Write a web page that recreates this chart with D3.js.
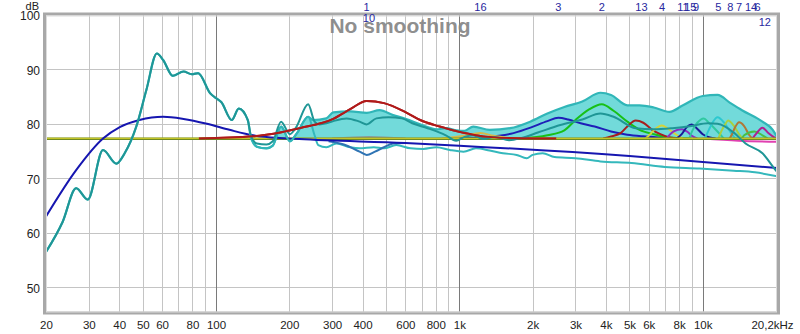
<!DOCTYPE html>
<html><head><meta charset="utf-8">
<script src="https://cdn.jsdelivr.net/npm/d3@7"></script>
<style>
html,body{margin:0;padding:0;background:#fff;}
svg{display:block;font-family:"Liberation Sans",Arial,sans-serif;}
</style></head>
<body>
<svg id="c" width="800" height="334"></svg>
<script>
// ---------- DATA ----------
const xTickValues = [20,30,40,50,60,80,100,200,300,400,600,800,1000,2000,3000,4000,5000,6000,8000,10000,20200];
const xTickLabels = ["20","30","40","50","60","80","100","200","300","400","600","800","1k","2k","3k","4k","5k","6k","8k","10k","20,2kHz"];
const xMinorGrid = [30,40,50,60,70,80,90,200,300,400,500,600,700,800,900,2000,3000,4000,5000,6000,7000,8000,9000];
const xMajorGrid = [100,1000,10000];
const yTickValues = [50,60,70,80,90,100];
const yGrid = [50,60,70,80,90];
const baselineLevel = 77.25;

// measurement, shared low-frequency part
const lowShared = [[20,56.5],[23.4,62.0],[26.6,68.2],[29.7,66.1],[34.3,75.2],[38.9,72.7],[42.1,74.6],[47,79.5],[51.7,86.2],[57.1,92.9],[60.6,91.7],[66.4,88.8],[73.5,89.6],[79.4,89.1],[84.4,89.3],[94.6,85.6],[100,84.7],[105,84.0],[116,80.7],[124,82.8],[135,80.7]];
// light trace between 139 Hz and 239 Hz (shared by upper and lower light traces)
const lightSplit = [[139,77.5],[147,75.8],[161,75.5],[171,76.0],[185,79.5],[201,76.8],[215,78.3],[239,81.3]];
// upper light trace (top of shaded area)
const lightUpper = [[250,80.7],[284,81.0],[303,82.1],[356,82.3],[416,82.0],[470,82.5],[534,81.6],[604,80.9],[690,79.9],[806,79.0],[880,79.2],[974,78.8],[1050,78.7],[1140,79.5],[1334,78.9],[1616,79.2],[1955,80.4],[2300,81.9],[2700,83.1],[3200,84.1],[3800,85.7],[4200,85.3],[4900,83.4],[5500,83.4],[6300,83.0],[7300,82.2],[8300,83.4],[10000,85.1],[11500,85.3],[13000,83.8],[14500,82.5],[17600,80.4],[19400,78.9],[20200,77.6]];
// lower light trace
const lightLower = [[254,77.9],[263,76.1],[284,75.7],[312,76.4],[356,75.7],[389,75.5],[445,75.7],[490,75.5],[550,76.1],[630,75.5],[710,75.4],[806,75.7],[914,75.2],[1040,74.9],[1170,75.5],[1330,75.1],[1510,74.6],[1720,74.3],[1890,73.7],[2000,74.3],[2200,74.6],[2460,73.9],[3000,73.7],[3800,73.1],[5100,72.8],[7000,72.1],[9700,71.8],[13400,71.4],[16400,71.1],[20200,70.4]];
// dark trace above the split
const darkMid = [[139,77.9],[147,76.4],[161,76.2],[171,76.8],[185,80.4],[201,78.1],[213,79.3],[239,83.6],[254,80.4],[266,79.9],[284,80.1],[303,80.5],[344,81.0],[389,80.4],[416,79.9],[456,81.0],[512,81.2],[580,81.0],[640,80.1],[740,79.2],[880,77.9],[970,76.9],[1050,77.6],[1140,77.9],[1250,77.2],[1400,77.6],[1600,77.0],[1800,77.4],[2100,78.4],[2600,79.8],[3200,80.8],[3800,81.9],[4300,81.3],[5300,79.2],[6300,79.0],[7500,79.2],[9000,79.6],[10500,80.1],[11500,80.0],[13500,78.3],[15000,76.4],[17600,74.6],[19700,71.8],[20200,71.2]];
// blue-teal trace around 300-600 Hz
const blueTeal = [[290,76.8],[335,76.2],[389,74.9],[416,74.3],[450,74.9],[490,75.7],[534,76.4],[600,76.5]];
// target curve
const target = [[20,63.0],[26.6,71.5],[34.3,77.3],[40.2,79.4],[48.4,80.7],[60.6,81.3],[73.5,80.9],[91.7,80.0],[113.5,78.9],[142,77.9],[161,77.6],[220,77.2],[600,76.5],[1000,76.0],[5000,74.1],[20200,71.9]];

// individual filters
const filter1  = [[85,77.3],[142,77.7],[161,78.0],[220,79.2],[303,80.9],[356,82.7],[416,84.2],[490,83.8],[603,82.1],[690,80.7],[830,79.5],[1050,78.3],[1250,77.7],[1600,77.4],[2500,77.3]];
const filter2  = [[1800,77.3],[2300,77.9],[2700,78.8],[3000,80.7],[3400,82.6],[3850,83.6],[4300,82.4],[4900,80.4],[5500,78.9],[6300,78.1],[7300,77.5],[9000,77.3]];
const filter3  = [[1000,77.3],[1220,77.5],[1670,78.3],[1960,79.3],[2300,80.5],[2550,81.1],[2800,80.8],[3150,80.1],[3600,79.5],[4200,78.6],[4900,78.0],[5700,77.7],[6700,77.5],[8000,77.3]];
const filter4  = [[5800,77.3],[6000,77.8],[6400,79.1],[6800,79.7],[7200,79.1],[7800,78.0],[8300,77.3]];
const filter5  = [[10200,77.3],[10600,78.9],[11000,80.3],[11500,81.2],[12300,80.1],[13100,78.3],[13600,77.3]];
const filter6  = [[16000,77.3],[16600,78.2],[17600,79.3],[18600,78.3],[19700,77.5],[20200,77.3]];
const filter7  = [[12900,77.3],[13200,78.1],[13600,79.4],[14100,80.3],[14800,79.6],[15500,78.0],[16000,77.3]];
const filter8  = [[11600,77.3],[12000,78.9],[12400,80.0],[12700,80.6],[13400,79.7],[14100,78.1],[14600,77.3]];
const filter9  = [[8800,77.3],[9100,78.9],[9500,80.2],[10100,81.0],[10600,80.2],[11500,78.6],[12200,77.3]];
const filter10 = [[300,77.3],[425,77.6],[600,77.3]];
const filter11 = [[7100,77.3],[7600,78.6],[8200,79.0],[8600,78.6],[9100,77.7],[9500,77.3]];
const filter12 = [[10000,77.3],[14000,76.9],[20200,76.7]];
const filter13 = [[3900,77.3],[4200,77.7],[4600,78.3],[4900,79.5],[5300,80.6],[5700,80.2],[6200,78.9],[6700,78.1],[7300,77.5],[8000,77.3]];
const filter14 = [[14500,77.3],[14800,77.9],[16300,78.6],[17600,77.9],[18500,77.3]];
const filter15 = [[7800,77.3],[8200,78.1],[8600,79.4],[9000,79.9],[9400,79.3],[10000,78.1],[10700,77.5],[11300,77.3]];
const filter16 = [[850,77.3],[1050,77.8],[1220,78.3],[1380,77.8],[1650,77.3]];

const filterLabels = ["1","10","16","3","2","13","4","11","15","9","5","8","7","14","6","12"];
const filterLabelFreqs = [415,425,1220,2550,3850,5600,6800,8300,8900,9400,11600,13000,14100,15800,16800,18000];
const filterLabelRows = [0,1,0,0,0,0,0,0,0,0,0,0,0,0,0,2];

// ---------- STYLES ----------
const filterSeries = [
  {d:filter10, c:"#8a9a9a"},
  {d:filter12, c:"#e040b0"},
  {d:filter3,  c:"#1e1eb8"},
  {d:filter2,  c:"#18c018"},
  {d:filter1,  c:"#b01a1a"},
  {d:filter16, c:"#d8b848"},
  {d:filter13, c:"#a81e1e"},
  {d:filter4,  c:"#d4d43a"},
  {d:filter11, c:"#8a30c0"},
  {d:filter15, c:"#1a1a98"},
  {d:filter9,  c:"#30c8a0"},
  {d:filter5,  c:"#2cc8d0"},
  {d:filter8,  c:"#a8d040"},
  {d:filter7,  c:"#b07838"},
  {d:filter14, c:"#48c048"},
  {d:filter6,  c:"#b02090"}
];

// ---------- CHART ----------
const svg = d3.select("#c");
const L = 46, R = 777, T = 14.8, B = 313;
const x = d3.scaleLog().domain([20, 20200]).range([L, R]);
const y = d3.scaleLinear().domain([45.3, 100]).range([B, T]);

svg.append("defs").append("clipPath").attr("id","clip")
  .append("rect").attr("x",L).attr("y",T).attr("width",R-L+1).attr("height",B-T);

// grid
const g = svg.append("g");
g.selectAll(".hg").data(yGrid).join("line")
  .attr("x1",L).attr("x2",R).attr("y1",d=>Math.round(y(d))+0.5).attr("y2",d=>Math.round(y(d))+0.5)
  .attr("stroke","#c4c4c4").attr("stroke-width",1);
g.selectAll(".vg").data(xMinorGrid).join("line")
  .attr("y1",T).attr("y2",B).attr("x1",d=>Math.round(x(d))+0.5).attr("x2",d=>Math.round(x(d))+0.5)
  .attr("stroke","#c4c4c4").attr("stroke-width",1);
g.selectAll(".vm").data(xMajorGrid).join("line")
  .attr("y1",T).attr("y2",B).attr("x1",d=>Math.round(x(d))+0.5).attr("x2",d=>Math.round(x(d))+0.5)
  .attr("stroke","#7a7a7a").attr("stroke-width",1);

const plot = svg.append("g").attr("clip-path","url(#clip)");
const line = d3.line().x(d=>x(d[0])).y(d=>y(d[1])).curve(d3.curveMonotoneX);

const upperTrace = lowShared.concat(lightSplit, lightUpper);
const lowerTrace = lightSplit.concat(lightLower);
const darkTrace = lowShared.concat(darkMid);

// shaded area
const fillData = lightSplit.concat(lightUpper);
plot.append("path").datum(fillData)
  .attr("d", d3.area().x(d=>x(d[0])).y0(y(baselineLevel)).y1(d=>y(Math.max(d[1],baselineLevel))).curve(d3.curveMonotoneX))
  .attr("fill","#72dada").attr("stroke","none");

// filters
filterSeries.forEach(f=>{
  plot.append("path").datum(f.d).attr("d",line)
    .attr("fill","none").attr("stroke",f.c).attr("stroke-width",2);
});

// baseline
plot.append("line").attr("x1",L).attr("x2",R)
  .attr("y1",y(baselineLevel)).attr("y2",y(baselineLevel))
  .attr("stroke","#6f8a20").attr("stroke-width",2.6);
plot.append("line").attr("x1",L).attr("x2",R)
  .attr("y1",y(baselineLevel)-0.5).attr("y2",y(baselineLevel)-0.5)
  .attr("stroke","#c4c428").attr("stroke-width",1.2);

// lower traces
plot.append("path").datum(lowerTrace).attr("d",line)
  .attr("fill","none").attr("stroke","#34b8bc").attr("stroke-width",2);
plot.append("path").datum(blueTeal).attr("d",line)
  .attr("fill","none").attr("stroke","#2f74b4").attr("stroke-width",2);

// target
plot.append("path").datum(target).attr("d",line)
  .attr("fill","none").attr("stroke","#1616b0").attr("stroke-width",2);

// upper traces
plot.append("path").datum(upperTrace).attr("d",line)
  .attr("fill","none").attr("stroke","#30b6b8").attr("stroke-width",2.2);
plot.append("path").datum(darkTrace).attr("d",line)
  .attr("fill","none").attr("stroke","#1f9696").attr("stroke-width",2);

// redraw filter 1 over shading tops for visibility
plot.append("path").datum(filter1).attr("d",line)
  .attr("fill","none").attr("stroke","#b01a1a").attr("stroke-width",2);

// frame
svg.append("rect").attr("x",44.5).attr("y",14).attr("width",R-44.5+1.5).attr("height",B-14)
  .attr("fill","none").attr("stroke","#a8a8a8").attr("stroke-width",3);
svg.append("rect").attr("x",46.5).attr("y",16).attr("width",R-46.5-0.5).attr("height",B-17)
  .attr("fill","none").attr("stroke","#dcdcdc").attr("stroke-width",1);

// axes
const xAxis = d3.axisBottom(x).tickValues(xTickValues)
  .tickFormat((d,i)=>xTickLabels[i]).tickSize(0).tickPadding(0);
const xa = svg.append("g").attr("transform",`translate(0,${B+8})`).call(xAxis);
xa.select(".domain").remove();
xa.selectAll("text").attr("font-size",11.5).attr("fill","#222").attr("font-family","Liberation Sans, Arial, sans-serif")
  .attr("dx",(d,i)=> i===xTickLabels.length-1 ? -5 : 0);

const yAxis = d3.axisLeft(y).tickValues(yTickValues).tickSize(0).tickPadding(0);
const ya = svg.append("g").attr("transform",`translate(40,1)`).call(yAxis);
ya.select(".domain").remove();
ya.selectAll("text").attr("font-size",12).attr("fill","#222").attr("font-family","Liberation Sans, Arial, sans-serif");

svg.append("text").attr("x",39).attr("y",10).attr("text-anchor","end")
  .attr("font-size",11).attr("fill","#222").text("dB");

// filter labels
const rowY = [11, 22, 26];
svg.selectAll(".fl").data(filterLabels).join("text")
  .attr("x",(d,i)=>x(filterLabelFreqs[i])).attr("y",(d,i)=>rowY[filterLabelRows[i]])
  .attr("text-anchor","middle").attr("font-size",11).attr("fill","#2828a0").text(d=>d);

// title
svg.append("text").attr("x",400).attr("y",33).attr("text-anchor","middle")
  .attr("font-size",21).attr("font-weight","bold").attr("fill","#888").attr("fill-opacity",0.95)
  .text("No smoothing");
</script>
</body></html>
